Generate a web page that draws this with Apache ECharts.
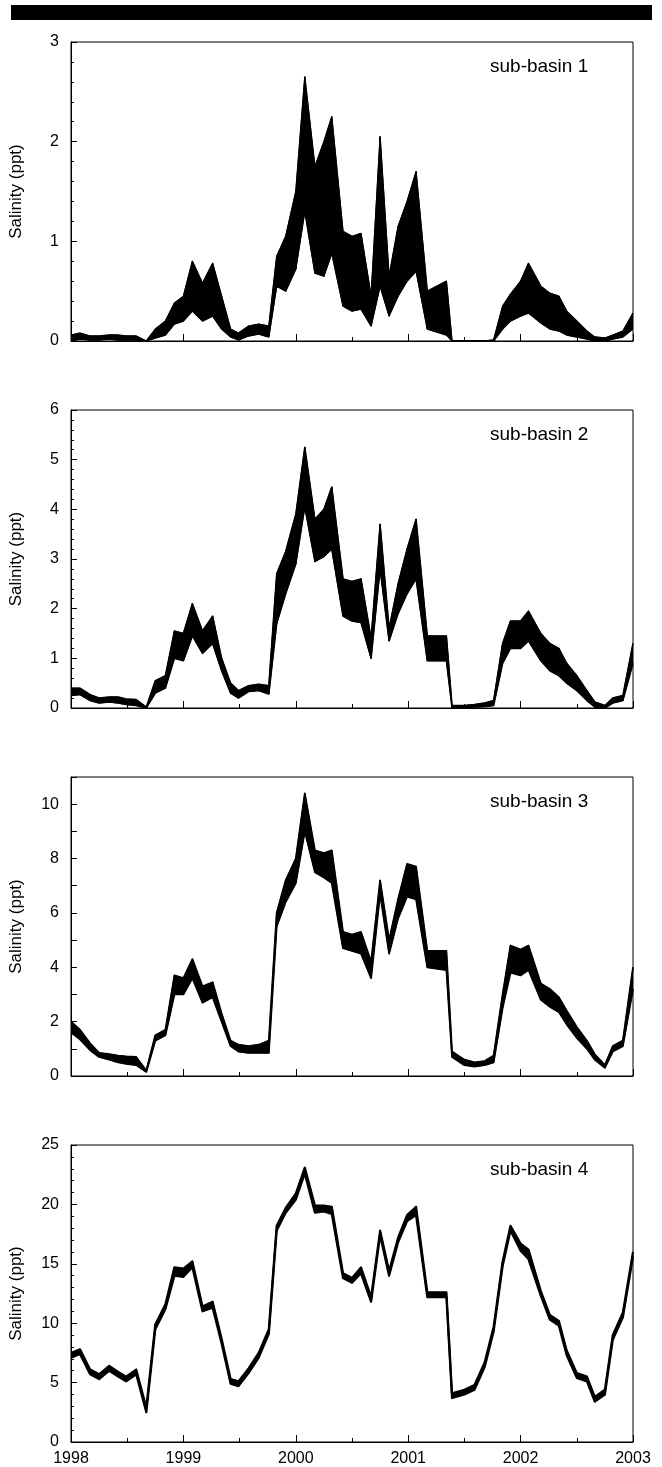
<!DOCTYPE html>
<html>
<head>
<meta charset="utf-8">
<script src="https://cdn.jsdelivr.net/npm/echarts@6/dist/echarts.min.js"></script>
<style>
  html, body { margin: 0; padding: 0; background: #fff; }
  #chart { width: 662px; height: 1467px; }
</style>
</head>
<body>
<div id="chart"></div>
<script>
// Decimal-year sample times shared by all panels
const dates = [
  1998.00, 1998.08, 1998.17, 1998.25, 1998.34, 1998.42, 1998.49, 1998.58, 1998.67, 1998.75,
  1998.84, 1998.92, 1999.00, 1999.08, 1999.17, 1999.26, 1999.34, 1999.42, 1999.49, 1999.58,
  1999.67, 1999.76, 1999.83, 1999.91, 2000.00, 2000.08, 2000.17, 2000.25, 2000.32, 2000.42,
  2000.50, 2000.58, 2000.67, 2000.75, 2000.83, 2000.91, 2000.99, 2001.07, 2001.17, 2001.34,
  2001.39, 2001.50, 2001.59, 2001.68, 2001.76, 2001.84, 2001.91, 2002.00, 2002.07, 2002.18,
  2002.26, 2002.34, 2002.41, 2002.50, 2002.59, 2002.66, 2002.75, 2002.82, 2002.91, 2003.00
];

// Envelope (upper / lower) of the ensemble for each sub-basin, salinity in ppt
const sb1Upper = [
  0.06, 0.08, 0.05, 0.05, 0.06, 0.06, 0.05, 0.05, 0.00, 0.12,
  0.20, 0.38, 0.45, 0.80, 0.58, 0.78, 0.45, 0.12, 0.08, 0.15,
  0.17, 0.15, 0.85, 1.05, 1.50, 2.65, 1.75, 2.00, 2.25, 1.10,
  1.05, 1.08, 0.45, 2.05, 0.65, 1.15, 1.40, 1.70, 0.50, 0.60,
  0.00, 0.00, 0.00, 0.00, 0.01, 0.35, 0.47, 0.60, 0.78, 0.55,
  0.48, 0.45, 0.30, 0.20, 0.10, 0.04, 0.03, 0.06, 0.10, 0.28
];
const sb1Lower = [
  0.00, 0.02, 0.01, 0.01, 0.02, 0.01, 0.01, 0.01, 0.00, 0.03,
  0.06, 0.17, 0.20, 0.30, 0.20, 0.25, 0.12, 0.04, 0.01, 0.05,
  0.07, 0.04, 0.55, 0.50, 0.72, 1.30, 0.68, 0.65, 0.88, 0.35,
  0.30, 0.32, 0.15, 0.55, 0.25, 0.45, 0.60, 0.70, 0.12, 0.06,
  0.00, 0.00, 0.00, 0.00, 0.00, 0.12, 0.20, 0.25, 0.28, 0.18,
  0.12, 0.10, 0.06, 0.04, 0.02, 0.00, 0.00, 0.02, 0.04, 0.12
];
const sb2Upper = [
  0.40, 0.40, 0.27, 0.20, 0.22, 0.22, 0.18, 0.17, 0.02, 0.55,
  0.65, 1.55, 1.50, 2.10, 1.55, 1.85, 1.00, 0.50, 0.35, 0.45,
  0.48, 0.45, 2.70, 3.15, 3.90, 5.25, 3.80, 4.00, 4.45, 2.60,
  2.55, 2.60, 1.40, 3.70, 1.60, 2.50, 3.20, 3.80, 1.45, 1.45,
  0.05, 0.05, 0.07, 0.10, 0.15, 1.30, 1.75, 1.75, 1.95, 1.50,
  1.30, 1.20, 0.90, 0.65, 0.35, 0.12, 0.05, 0.20, 0.25, 1.30
];
const sb2Lower = [
  0.25, 0.27, 0.15, 0.10, 0.12, 0.10, 0.07, 0.05, 0.00, 0.30,
  0.40, 1.00, 0.95, 1.45, 1.10, 1.30, 0.75, 0.30, 0.20, 0.33,
  0.35, 0.28, 1.70, 2.30, 2.90, 4.05, 2.95, 3.05, 3.20, 1.85,
  1.75, 1.72, 1.00, 2.80, 1.35, 1.90, 2.30, 2.60, 0.95, 0.95,
  0.00, 0.01, 0.02, 0.03, 0.05, 0.90, 1.20, 1.20, 1.35, 0.95,
  0.75, 0.65, 0.50, 0.35, 0.15, 0.02, 0.00, 0.10, 0.15, 0.90
];
const sb3Upper = [
  2.00, 1.70, 1.20, 0.85, 0.80, 0.75, 0.72, 0.70, 0.20, 1.50,
  1.70, 3.70, 3.60, 4.30, 3.30, 3.45, 2.30, 1.30, 1.15, 1.10,
  1.15, 1.30, 6.00, 7.20, 8.00, 10.40, 8.30, 8.20, 8.30, 5.30,
  5.20, 5.30, 4.20, 7.20, 5.00, 6.50, 7.80, 7.70, 4.60, 4.60,
  0.90, 0.60, 0.50, 0.55, 0.75, 3.00, 4.80, 4.65, 4.80, 3.40,
  3.20, 2.90, 2.40, 1.80, 1.30, 0.80, 0.40, 1.10, 1.30, 4.00
];
const sb3Lower = [
  1.60, 1.35, 0.95, 0.70, 0.60, 0.50, 0.45, 0.40, 0.15, 1.30,
  1.50, 3.00, 3.00, 3.60, 2.70, 2.90, 2.00, 1.10, 0.90, 0.85,
  0.85, 0.85, 5.50, 6.40, 7.10, 9.00, 7.50, 7.30, 7.10, 4.70,
  4.60, 4.50, 3.60, 6.70, 4.50, 5.80, 6.60, 6.50, 4.00, 3.90,
  0.70, 0.40, 0.35, 0.40, 0.50, 2.50, 3.80, 3.70, 3.90, 2.80,
  2.55, 2.35, 1.90, 1.40, 1.00, 0.60, 0.30, 0.90, 1.10, 3.20
];
const sb4Upper = [
  7.5, 7.8, 6.1, 5.7, 6.4, 5.9, 5.5, 6.1, 2.9, 9.9,
  11.6, 14.7, 14.6, 15.2, 11.4, 11.8, 8.7, 5.3, 5.1, 6.2,
  7.5, 9.5, 18.2, 19.7, 20.9, 23.1, 19.9, 19.9, 19.8, 14.2,
  13.8, 14.7, 12.2, 17.8, 14.4, 17.2, 19.1, 19.8, 12.6, 12.6,
  4.1, 4.4, 4.8, 6.7, 9.7, 15.2, 18.2, 16.7, 16.2, 12.7,
  10.7, 10.2, 7.7, 5.8, 5.5, 3.8, 4.4, 9.0, 10.9, 16.0
];
const sb4Lower = [
  7.1, 7.4, 5.7, 5.3, 6.0, 5.5, 5.1, 5.7, 2.5, 9.5,
  11.2, 14.0, 13.9, 14.7, 11.0, 11.3, 8.3, 4.9, 4.7, 5.8,
  7.1, 9.1, 17.8, 19.3, 20.4, 22.6, 19.3, 19.4, 19.2, 13.8,
  13.4, 14.2, 11.8, 17.4, 14.0, 16.8, 18.6, 19.1, 12.2, 12.2,
  3.7, 4.0, 4.4, 6.3, 9.3, 14.8, 17.8, 16.1, 15.4, 12.3,
  10.3, 9.8, 7.3, 5.4, 5.1, 3.4, 4.0, 8.6, 10.5, 15.6
];

const panelNames = ['sub-basin 1', 'sub-basin 2', 'sub-basin 3', 'sub-basin 4'];
const yMax = [3, 6, 11, 25];
const yInterval = [1, 1, 1, 5];
const yMinorSplit = [5, 5, 0, 5];
const xYears = [1998, 1999, 2000, 2001, 2002, 2003];
const yTitle = 'Salinity (ppt)';

const uppers = [sb1Upper, sb2Upper, sb3Upper, sb4Upper];
const lowers = [sb1Lower, sb2Lower, sb3Lower, sb4Lower];

// layout / style
const gridTops = [42, 410, 777, 1145];
const gridHeights = [299, 298, 299, 297];
const gridLeft = 68, gridWidth = 565;
const edgeWidths = [1.3, 1.5, 1.8, 2.2];
const FONT = '"Liberation Sans", Arial, sans-serif';

const chart = echarts.init(document.getElementById('chart'), null, { renderer: 'canvas' });

const grids = [], xAxes = [], yAxes = [], series = [], graphics = [];

graphics.push({
  type: 'rect', shape: { x: 11, y: 5, width: 641, height: 15 },
  style: { fill: '#000' }, silent: true
});

for (let p = 0; p < 4; p++) {
  grids.push({
    left: gridLeft, width: gridWidth, top: gridTops[p], height: gridHeights[p],
    show: true, borderColor: '#000', borderWidth: 1, backgroundColor: 'transparent'
  });
  xAxes.push({
    type: 'value', gridIndex: p, min: xYears[0], max: xYears[xYears.length - 1], interval: 1,
    axisLine: { show: true, lineStyle: { color: '#000', width: 1 } },
    axisTick: { show: true, inside: true, length: 7, lineStyle: { color: '#000', width: 1 } },
    minorTick: { show: true, splitNumber: 2, length: 4, lineStyle: { color: '#000', width: 1 } },
    splitLine: { show: false },
    axisLabel: {
      show: p === 3, color: '#000', fontSize: 16, fontFamily: FONT, margin: 9,
      formatter: v => String(Math.round(v))
    }
  });
  const yAx = {
    type: 'value', gridIndex: p, min: 0, max: yMax[p], interval: yInterval[p],
    name: yTitle, nameLocation: 'middle', nameGap: 46,
    nameTextStyle: { color: '#000', fontSize: 17, fontFamily: FONT },
    axisLine: { show: true, lineStyle: { color: '#000', width: 1 } },
    axisTick: { show: true, inside: true, length: 6, lineStyle: { color: '#000', width: 1 } },
    splitLine: { show: false },
    axisLabel: {
      color: '#000', fontSize: 16, fontFamily: FONT, margin: 12,
      formatter: p === 2 ? (v => (v % 2 === 0 ? String(v) : '')) : (v => String(v))
    }
  };
  if (yMinorSplit[p] > 0) {
    yAx.minorTick = { show: true, splitNumber: yMinorSplit[p], length: 3, lineStyle: { color: '#000', width: 1 } };
  }
  yAxes.push(yAx);

  const up = uppers[p], lo = lowers[p];
  // filled envelope between lower and upper ensemble members
  series.push({
    type: 'custom', xAxisIndex: p, yAxisIndex: p, clip: true,
    data: dates.map((d, i) => [d, up[i], lo[i]]),
    encode: { x: 0, y: [1, 2] },
    renderItem: function (params, api) {
      const i = params.dataIndex;
      if (i >= dates.length - 1) return null;
      const pts = [
        api.coord([dates[i], up[i]]),
        api.coord([dates[i + 1], up[i + 1]]),
        api.coord([dates[i + 1], lo[i + 1]]),
        api.coord([dates[i], lo[i]])
      ];
      return {
        type: 'polygon', shape: { points: pts },
        style: { fill: '#000', stroke: '#000', lineWidth: 1, lineJoin: 'round' }
      };
    },
    silent: true, animation: false
  });
  // outer ensemble members as lines
  [up, lo].forEach(arr => {
    series.push({
      type: 'line', xAxisIndex: p, yAxisIndex: p, clip: true,
      data: dates.map((d, i) => [d, arr[i]]),
      showSymbol: false, symbol: 'none',
      lineStyle: { color: '#000', width: edgeWidths[p], join: 'round' },
      silent: true, animation: false, z: 3
    });
  });

  graphics.push({
    type: 'text', x: 490, y: gridTops[p] + 25,
    style: { text: panelNames[p], fill: '#000', font: '19px ' + FONT, align: 'left', verticalAlign: 'middle' },
    silent: true
  });
}

chart.setOption({
  backgroundColor: '#fff',
  animation: false,
  grid: grids, xAxis: xAxes, yAxis: yAxes, series: series, graphic: graphics
});
</script>
</body>
</html>
